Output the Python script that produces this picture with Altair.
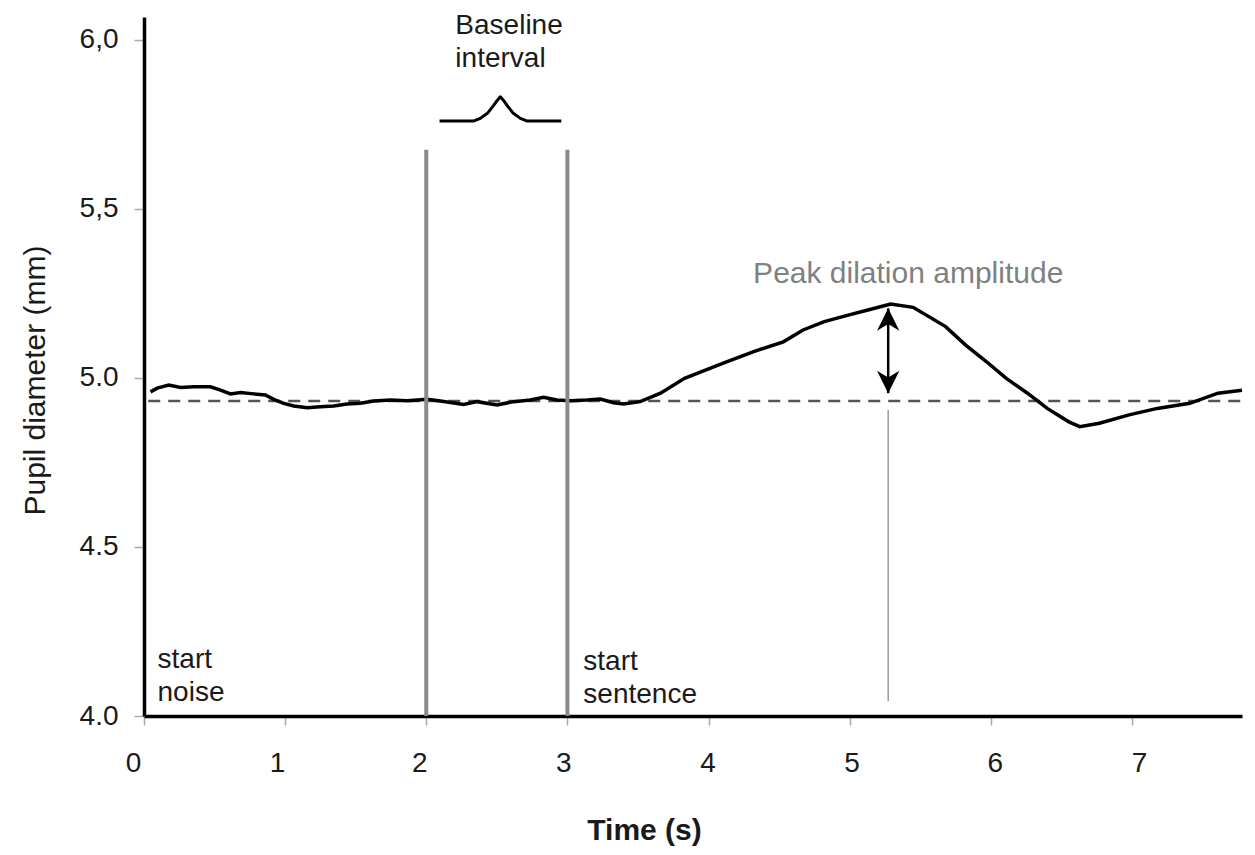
import altair as alt
import pandas as pd

# ---- data ----
time_s = [0.046, 0.093, 0.176, 0.259, 0.353, 0.471, 0.542, 0.613, 0.683, 0.778,
          0.860, 0.919, 0.990, 1.061, 1.156, 1.250, 1.344, 1.439, 1.533, 1.627,
          1.746, 1.864, 2.006, 2.100, 2.265, 2.360, 2.501, 2.619, 2.737, 2.831,
          2.926, 3.020, 3.139, 3.233, 3.327, 3.398, 3.516, 3.66, 3.83, 4.10,
          4.32, 4.53, 4.67, 4.82, 4.99, 5.13, 5.29, 5.45, 5.68, 5.82,
          5.97, 6.11, 6.26, 6.40, 6.55, 6.63, 6.77, 6.98, 7.18, 7.41,
          7.61, 7.78]
pupil_mm = [4.959, 4.970, 4.979, 4.972, 4.974, 4.974, 4.964, 4.953, 4.957, 4.953,
            4.950, 4.937, 4.925, 4.917, 4.912, 4.915, 4.917, 4.923, 4.925, 4.932,
            4.935, 4.933, 4.937, 4.932, 4.922, 4.930, 4.920, 4.930, 4.935, 4.943,
            4.935, 4.933, 4.935, 4.938, 4.927, 4.923, 4.930, 4.955, 4.999, 5.043,
            5.078, 5.107, 5.142, 5.167, 5.186, 5.201, 5.219, 5.209, 5.152, 5.098,
            5.048, 4.999, 4.955, 4.910, 4.871, 4.856, 4.866, 4.891, 4.910, 4.925,
            4.955, 4.964]

baseline_mm = 4.932
event_times = [2.0, 3.0]          # baseline interval edges / start sentence
event_top = 5.675
peak_time = 5.273
peak_mm = 5.206

x_ticks = [0, 1, 2, 3, 4, 5, 6, 7]
x_label_shift = [-11, -8, -7, -4, -1, 2, 4, 7]
y_ticks = [4.0, 4.5, 5.0, 5.5, 6.0]
y_tick_labels = ["4.0", "4.5", "5.0", "5,5", "6,0"]

brace_t = [2.094, 2.334, 2.383, 2.433, 2.475, 2.504, 2.525,
           2.546, 2.575, 2.617, 2.667, 2.716, 2.957]
brace_mm = [5.760, 5.760, 5.768, 5.783, 5.805, 5.822, 5.832,
            5.822, 5.805, 5.783, 5.768, 5.760, 5.760]

note_text = ["Baseline\ninterval", "start\nnoise", "start\nsentence"]
note_t = [2.206, 0.096, 3.113]
note_mm = [6.018, 4.142, 4.136]

FONT = "Liberation Sans"
XDOM = [0, 7.78]
YDOM = [4.0, 6.068]

xs = alt.Scale(domain=XDOM, nice=False, zero=False)
ys = alt.Scale(domain=YDOM, nice=False, zero=False)

label_expr = " : ".join(
    f"datum.value == {v} ? '{l}'" for v, l in zip(y_ticks, y_tick_labels)
) + " : ''"

offset_cond = {
    "condition": [{"test": f"datum.value == {v}", "value": s}
                  for v, s in zip(x_ticks, x_label_shift)],
    "value": 0,
}

trace_df = pd.DataFrame({"t": time_s, "d": pupil_mm})

x_axis = alt.Axis(
    values=x_ticks, title="Time (s)", grid=False,
    domainColor="black", domainWidth=3.5,
    tickColor="#aaaaaa", tickWidth=1.5, tickSize=9,
    labelFont=FONT, labelFontSize=28, labelColor="#1a1a1a",
    labelPadding=24, labelOffset=offset_cond, labelFlush=False,
    titleFont=FONT, titleFontSize=30, titleFontWeight="bold", titleColor="#1a1a1a",
    titleX=500, titleY=123, titleBaseline="alphabetic", titleAnchor="middle",
    format="d",
)
y_axis = alt.Axis(
    values=y_ticks, title="Pupil diameter (mm)", grid=False,
    domainColor="black", domainWidth=3.5,
    tickColor="#aaaaaa", tickWidth=1.5, tickSize=10,
    labelFont=FONT, labelFontSize=28, labelColor="#1a1a1a",
    labelPadding=16, labelExpr=label_expr, labelFlush=False,
    titleFont=FONT, titleFontSize=30, titleFontWeight="normal", titleColor="#1a1a1a",
    titleAngle=270, titleX=-100, titleY=363, titleBaseline="alphabetic",
    titleAlign="center",
)

trace = alt.Chart(trace_df).mark_line(
    color="black", strokeWidth=3.5, interpolate="linear"
).encode(
    x=alt.X("t:Q", scale=xs, axis=x_axis),
    y=alt.Y("d:Q", scale=ys, axis=y_axis),
)

dash_df = pd.DataFrame({"x1": [0.03], "x2": [XDOM[1]], "y": [baseline_mm]})
dashed = alt.Chart(dash_df).mark_rule(
    color="#555555", strokeWidth=2.5, strokeDash=[12, 8]
).encode(
    x=alt.X("x1:Q", scale=xs), x2="x2:Q", y=alt.Y("y:Q", scale=ys)
)

ev_df = pd.DataFrame({"x": event_times, "y1": [YDOM[0]] * 2, "y2": [event_top] * 2})
events = alt.Chart(ev_df).mark_rule(color="#8a8a8a", strokeWidth=4).encode(
    x=alt.X("x:Q", scale=xs), y=alt.Y("y1:Q", scale=ys), y2="y2:Q"
)

thin_df = pd.DataFrame({"x": [peak_time], "y1": [4.044], "y2": [4.905]})
thin = alt.Chart(thin_df).mark_rule(color="#9a9a9a", strokeWidth=1.5).encode(
    x=alt.X("x:Q", scale=xs), y=alt.Y("y1:Q", scale=ys), y2="y2:Q"
)

shaft_df = pd.DataFrame({"x": [peak_time], "y1": [baseline_mm + 0.023], "y2": [peak_mm]})
shaft = alt.Chart(shaft_df).mark_rule(color="black", strokeWidth=2.5).encode(
    x=alt.X("x:Q", scale=xs), y=alt.Y("y1:Q", scale=ys), y2="y2:Q"
)

up_head = alt.Chart(pd.DataFrame({"x": [peak_time], "y": [peak_mm]})).mark_point(
    shape="M0,0L-0.5,1L0,0.7L0.5,1Z", size=2000, filled=True,
    color="black", opacity=1, strokeWidth=0,
).encode(x=alt.X("x:Q", scale=xs), y=alt.Y("y:Q", scale=ys))

down_head = alt.Chart(pd.DataFrame({"x": [peak_time], "y": [baseline_mm + 0.023]})).mark_point(
    shape="M0,0L-0.5,-1L0,-0.7L0.5,-1Z", size=2000, filled=True,
    color="black", opacity=1, strokeWidth=0,
).encode(x=alt.X("x:Q", scale=xs), y=alt.Y("y:Q", scale=ys))

brace = alt.Chart(pd.DataFrame({"t": brace_t, "d": brace_mm})).mark_line(
    color="black", strokeWidth=3, interpolate="linear", strokeJoin="round"
).encode(x=alt.X("t:Q", scale=xs), y=alt.Y("d:Q", scale=ys))

notes = alt.Chart(pd.DataFrame({"t": note_t, "d": note_mm, "s": note_text})).mark_text(
    font=FONT, fontSize=28, color="#1a1a1a", align="left", baseline="alphabetic",
    lineBreak="\n", lineHeight=33,
).encode(x=alt.X("t:Q", scale=xs), y=alt.Y("d:Q", scale=ys), text="s:N")

peak_note = alt.Chart(pd.DataFrame({"t": [4.316], "d": [5.280],
                                    "s": ["Peak dilation amplitude"]})).mark_text(
    font=FONT, fontSize=30, color="#808080", align="left", baseline="alphabetic",
).encode(x=alt.X("t:Q", scale=xs), y=alt.Y("d:Q", scale=ys), text="s:N")

chart = alt.layer(
    dashed, trace, events, thin, shaft, up_head, down_head, brace, notes, peak_note
).properties(
    width=1098, height=699,
    autosize=alt.AutoSizeParams(type="none"),
    padding={"left": 136, "top": 9, "right": 5, "bottom": 131},
    background="white",
).configure_view(stroke=None)

chart.save("out.html", embed_options={"renderer": "svg", "actions": False})
